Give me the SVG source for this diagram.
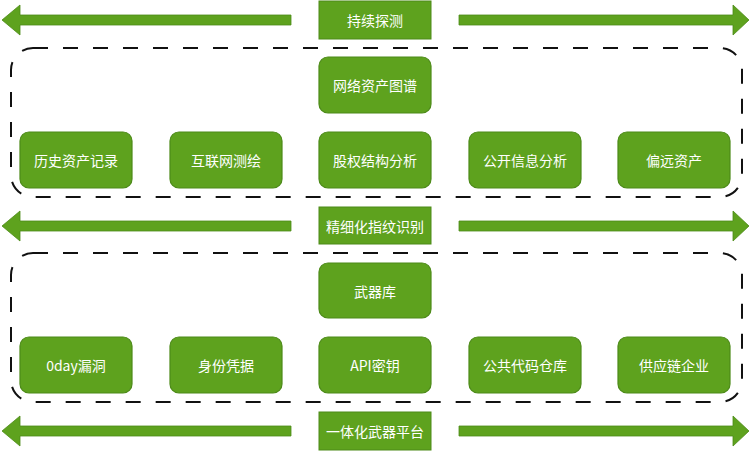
<svg xmlns="http://www.w3.org/2000/svg" width="750" height="451" viewBox="0 0 750 451">
<style>
.node{fill:#5ea21e;stroke:#4c8a18;stroke-width:1.2}
.lbl{fill:#5ea21e;stroke:#4c8a18;stroke-width:1}
.t{fill:#ffffff;font-family:"Noto Sans CJK SC","Noto Sans",sans-serif;font-size:14px;text-anchor:middle;dominant-baseline:central}
.grp{fill:none;stroke:#111111;stroke-width:2;stroke-dasharray:15 15}
.arr{fill:#5ea21e;stroke:#4c8a18;stroke-width:0.8}
</style>
<rect width="750" height="451" fill="#ffffff"/>
<g id="connectors">
<polygon class="arr" points="291,15 20,15 20,5 2,20 20,35 20,25 291,25"/>
<polygon class="arr" points="459,15 733,15 733,5 749,20 733,35 733,25 459,25"/>
<polygon class="arr" points="291,221 20,221 20,211 2,226 20,241 20,231 291,231"/>
<polygon class="arr" points="459,221 733,221 733,211 749,226 733,241 733,231 459,231"/>
<polygon class="arr" points="291,426 20,426 20,416 2,431 20,446 20,436 291,436"/>
<polygon class="arr" points="459,426 733,426 733,416 749,431 733,446 733,436 459,436"/>
</g>
<g id="group1"><rect class="grp" x="11" y="48" width="731" height="149" rx="22"/></g>
<g id="group2"><rect class="grp" x="11" y="253" width="731" height="149" rx="22"/></g>
<g id="label1"><rect class="lbl" x="319" y="1" width="112" height="38"/><text class="t" x="375" y="20">持续探测</text></g>
<g id="label2"><rect class="lbl" x="319" y="207" width="112" height="37"/><text class="t" x="375" y="225.5">精细化指纹识别</text></g>
<g id="label3"><rect class="lbl" x="319" y="412" width="112" height="38"/><text class="t" x="375" y="431">一体化武器平台</text></g>
<g id="n-map"><rect class="node" x="319" y="57" width="112" height="56" rx="9"/><text class="t" x="375" y="85">网络资产图谱</text></g>
<g id="n-hist"><rect class="node" x="20" y="132" width="112" height="56" rx="9"/><text class="t" x="76" y="160">历史资产记录</text></g>
<g id="n-inet"><rect class="node" x="170" y="132" width="112" height="56" rx="9"/><text class="t" x="226" y="160">互联网测绘</text></g>
<g id="n-equity"><rect class="node" x="319" y="132" width="112" height="56" rx="9"/><text class="t" x="375" y="160">股权结构分析</text></g>
<g id="n-public"><rect class="node" x="469" y="132" width="112" height="56" rx="9"/><text class="t" x="525" y="160">公开信息分析</text></g>
<g id="n-remote"><rect class="node" x="618" y="132" width="112" height="56" rx="9"/><text class="t" x="674" y="160">偏远资产</text></g>
<g id="n-arsenal"><rect class="node" x="319" y="263" width="112" height="55" rx="9"/><text class="t" x="375" y="290.5">武器库</text></g>
<g id="n-0day"><rect class="node" x="20" y="337" width="112" height="56" rx="9"/><text class="t" x="76" y="365">0day漏洞</text></g>
<g id="n-cred"><rect class="node" x="170" y="337" width="112" height="56" rx="9"/><text class="t" x="226" y="365">身份凭据</text></g>
<g id="n-api"><rect class="node" x="319" y="337" width="112" height="56" rx="9"/><text class="t" x="375" y="365">API密钥</text></g>
<g id="n-code"><rect class="node" x="469" y="337" width="112" height="56" rx="9"/><text class="t" x="525" y="365">公共代码仓库</text></g>
<g id="n-supply"><rect class="node" x="618" y="337" width="112" height="56" rx="9"/><text class="t" x="674" y="365">供应链企业</text></g>
</svg>
